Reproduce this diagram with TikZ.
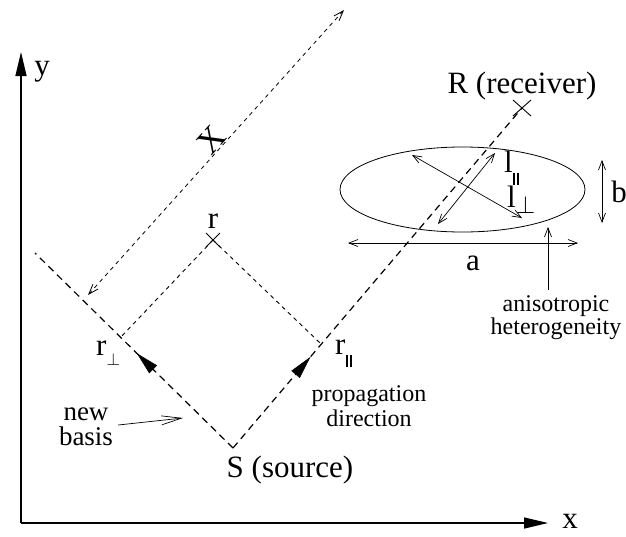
\documentclass[tikz,border=0pt]{standalone}
\usepackage{fontspec}
\setmainfont{Liberation Serif}
\newfontfamily\tnr{Liberation Serif}
\usetikzlibrary{arrows.meta,decorations.markings,calc}
\newcommand\mysubpar{\raisebox{-13pt}{\rule{2pt}{12pt}\hspace{2.6pt}\rule{2pt}{12pt}}}
\newcommand\mysubperp{\raisebox{-10pt}{\fontsize{18}{18}\selectfont$\perp$}}
\newcommand\mybigperp{\raisebox{-6pt}{\fontsize{26}{26}\selectfont$\perp$}}
\begin{document}
\begin{tikzpicture}[x=1pt,y=-1pt,
  lbl/.style={font=\tnr\fontsize{31}{34}\selectfont, inner sep=0pt},
  smalltxt/.style={font=\tnr\fontsize{24}{25}\selectfont, inner sep=0pt, align=center},
  axis/.style={line width=1.4pt, -{Triangle[length=24pt,width=11pt]}},
  longdash/.style={line width=1.2pt, dash pattern=on 7pt off 5pt},
  shortdash/.style={line width=0.9pt, dash pattern=on 4pt off 4pt},
  barb/.style={line width=0.7pt, {Straight Barb[length=9pt,width=7pt]}-{Straight Barb[length=9pt,width=7pt]}},
  onebarb/.style={line width=0.7pt, -{Straight Barb[length=9pt,width=7pt]}},
  midarrow/.style={postaction={decorate}, decoration={markings,
     mark=at position #1 with {\arrow[line width=0.5pt]{Triangle[length=23pt,width=11pt]}}}},
  crossmk/.style={line width=0.9pt}
]
\useasboundingbox (0,0) rectangle (626,536);

% axes
\coordinate (O) at (21,523);
\coordinate (xend) at (548,523);
\coordinate (yend) at (21,52);
\draw[axis] (O) -- (xend);
\draw[axis] (O) -- (yend);
\node[lbl, anchor=base] (xlab) at (570,528) {x};
\node[lbl, anchor=base] (ylab) at (42,75) {y};

% key points
\coordinate (S) at (233,448);
\coordinate (Rp) at (522,108);
\coordinate (rpt) at (213,240);
\coordinate (rperp) at (120,338);
\coordinate (rpar) at (321,344);
\coordinate (ul) at (35,253);
\coordinate (xtop) at (344,10);
\coordinate (xbot) at (88,295);

% new basis lines from S
\draw[longdash, midarrow=0.486] (S) -- (ul);
\draw[longdash, midarrow=0.268] (S) -- (Rp);

% projections of r
\draw[shortdash] (rpt) -- (rperp);
\draw[shortdash] (rpt) -- (rpar);

% X line
\draw[shortdash, line width=0.8pt, {Straight Barb[length=10pt,width=7pt]}-{Straight Barb[length=10pt,width=7pt]}] (xbot) -- (xtop);
\node[font=\tnr\fontsize{34}{36}\selectfont, inner sep=0pt, rotate=48, anchor=base] (Xlab) at (220,147) {X};

% crosses
\draw[crossmk] (rpt) +(-7,-7) -- +(7,7) +(-7,7) -- +(7,-7);
\draw[crossmk] (Rp) +(-9,-8) -- +(9,8) +(-9,8) -- +(9,-8);

% labels
\node[lbl, anchor=base] (rlab) at (213,228) {r};
\node[lbl, anchor=base west] (rperplab) at (96,355) {r\mysubperp};
\node[lbl, anchor=base west] (rparlab) at (335,354) {r\mysubpar};
\node[lbl, anchor=base] (Slab) at (290,477) {S (source)};
\node[lbl, anchor=base] (Rlab) at (522,93) {R (receiver)};

% heterogeneity
\coordinate (ec) at (462.5,189.5);
\draw[line width=0.8pt] (ec) ellipse [x radius=122.5, y radius=42.5];
\coordinate (l1a) at (412,155);
\coordinate (l1b) at (522,218);
\coordinate (l2a) at (438,224);
\coordinate (l2b) at (495,153);
\draw[barb] (l1a) -- (l1b);
\draw[barb] (l2a) -- (l2b);
\node[lbl, anchor=base west] (lparlab) at (504,172) {l\mysubpar};
\node[lbl, anchor=base west] (lperplab) at (507,207) {l\mybigperp};

\coordinate (aL) at (348,243);
\coordinate (aR) at (578,243);
\draw[barb] (aL) -- (aR);
\node[lbl, anchor=base] (alab) at (473,270) {a};

\coordinate (bT) at (602,160);
\coordinate (bB) at (602,223);
\draw[barb] (bT) -- (bB);
\node[lbl, anchor=base] (blab) at (619,202) {b};

\node[smalltxt, font=\tnr\fontsize{24}{23}\selectfont] (aniso) at (556,318) {anisotropic\\heterogeneity};
\coordinate (anisotip) at (548,227);
\draw[onebarb] (aniso.north -| anisotip) ++(0,-6) -- (anisotip);

\node[smalltxt] (prop) at (369,406) {propagation\\direction};

\node[smalltxt, font=\tnr\fontsize{27}{25}\selectfont] (nb) at (86,427) {new\\basis};
\coordinate (nbtip) at (183,418);
\draw[line width=0.7pt, -{Straight Barb[length=20pt,width=9pt]}] (nb.east |- 0,425) ++(5,0) -- (nbtip);
\end{tikzpicture}
\end{document}
